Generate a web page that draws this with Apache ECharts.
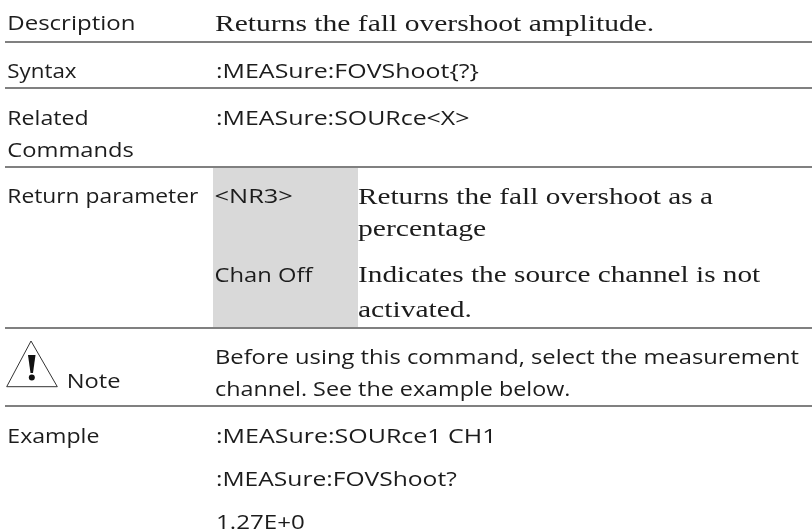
<!DOCTYPE html>
<html><head><meta charset="utf-8">
<style>html,body{margin:0;padding:0;background:#fff}#c{width:812px;height:530px}</style>
<script src="https://cdn.jsdelivr.net/npm/echarts@6/dist/echarts.min.js"></script>
</head><body><div id="c"></div>
<script>
const rowLabels = ["Description","Syntax","Related","Commands","Return parameter","Note","Example"];
const bodySans = [":MEASure:FOVShoot{?}",":MEASure:SOURce<X>","<NR3>","Chan Off",
  "Before using this command, select the measurement","channel. See the example below.",
  ":MEASure:SOURce1 CH1",":MEASure:FOVShoot?","1.27E+0"];
const bodySerif = ["Returns the fall overshoot amplitude.","Returns the fall overshoot as a","percentage",
  "Indicates the source channel is not","activated."];
// layout: [left, right, baseline], one per line above
const rowLabelPos = [[7.3,132.7,29.5],[7.3,76,78],[7.3,86,125],[7.3,132,157],[7.3,197,203],[66.7,119,388],[7.3,98,443]];
const bodySansPos = [[216,477,78],[216,467.7,125],[214.5,291,203],[214.5,313,282],
  [215,797.7,364],[215,567.7,396],[216,491,443],[216,456,486],[216,303,529]];
const bodySerifPos = [[215,653.3,30.5],[358,712.7,203.5],[358,486,236],[358,761,282],[358,471,317]];
const ruleYs = [42,88,167,328,406];
const SANS = ['Open Sans',20], SERIF = ['Liberation Serif',23], INK = '#1c1c1c';
const ctx = document.createElement('canvas').getContext('2d');
function line(text, pos, f){
  ctx.font = f[1]+'px "'+f[0]+'"';
  ctx.textBaseline = 'alphabetic';
  const a = ctx.measureText(text);
  ctx.textBaseline = 'middle';
  const m = ctx.measureText(text);
  const off = a.fontBoundingBoxAscent - m.fontBoundingBoxAscent;
  const inkW = a.actualBoundingBoxRight + a.actualBoundingBoxLeft;
  return {type:'text', x:pos[0], y:pos[2]-off, scaleX:(pos[1]-pos[0])/inkW, silent:true,
    style:{text, fontFamily:f[0], fontSize:f[1], fill:INK, align:'left', verticalAlign:'middle'}};
}
const g = [];
g.push({type:'rect', shape:{x:213,y:167,width:145,height:160}, style:{fill:'#d9d9d9'}, silent:true});
ruleYs.forEach(y=>g.push({type:'line', shape:{x1:5,y1:y,x2:812,y2:y}, style:{stroke:'#808080',lineWidth:2}, silent:true}));
rowLabels.forEach((t,i)=>g.push(line(t,rowLabelPos[i],SANS)));
bodySans.forEach((t,i)=>g.push(line(t,bodySansPos[i],SANS)));
bodySerif.forEach((t,i)=>g.push(line(t,bodySerifPos[i],SERIF)));
g.push({type:'polygon', shape:{points:[[31,341],[6.7,386.7],[57.3,386.7]]}, style:{fill:'none',stroke:'#333',lineWidth:1}, silent:true});
g.push({type:'polygon', shape:{points:[[28,355],[35.5,355],[33,373],[30.5,373]]}, style:{fill:'#111'}, silent:true});
g.push({type:'circle', shape:{cx:31.8,cy:377.5,r:3}, style:{fill:'#111'}, silent:true});
const chart = echarts.init(document.getElementById('c'),null,{renderer:'canvas'});
chart.setOption({animation:false, backgroundColor:'#fff', graphic:{elements:g}});
</script></body></html>
